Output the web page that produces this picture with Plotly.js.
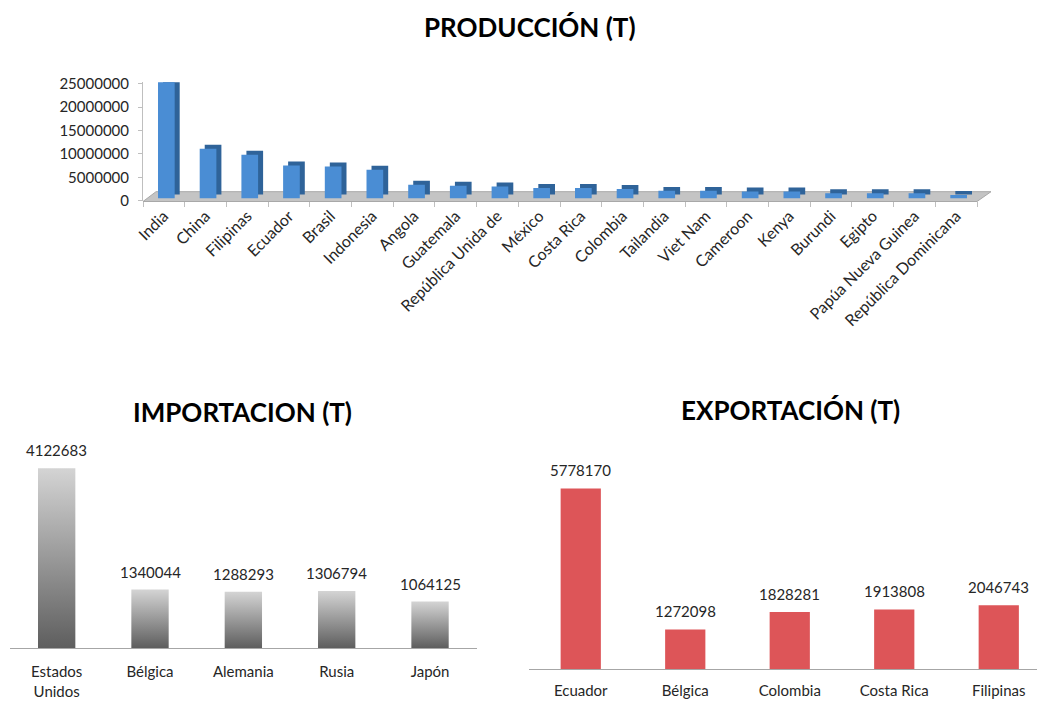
<!DOCTYPE html>
<html>
<head>
<meta charset="utf-8">
<script src="https://cdn.plot.ly/plotly-3.0.1.min.js"></script>
<style>
  html, body { margin: 0; padding: 0; background: #ffffff; }
  #chart { width: 1037px; height: 702px; }
</style>
</head>
<body>
<div id="chart"></div>
<script>
// ---------------- DATA ----------------
const prodCats = ['India','China','Filipinas','Ecuador','Brasil','Indonesia','Angola','Guatemala',
  'República Unida de','México','Costa Rica','Colombia','Tailandia','Viet Nam','Cameroon','Kenya',
  'Burundi','Egipto','Papúa Nueva Guinea','República Dominicana'];
const prodVals = [25100000,10600000,9300000,7000000,6800000,6100000,2900000,2700000,
  2550000,2200000,2200000,2000000,1600000,1600000,1450000,1450000,
  1100000,1100000,1100000,700000];
const prodTicks = [0,5000000,10000000,15000000,20000000,25000000];

const impCats = ['Estados<br>Unidos','Bélgica','Alemania','Rusia','Japón'];
const impVals = [4122683,1340044,1288293,1306794,1064125];

const expCats = ['Ecuador','Bélgica','Colombia','Costa Rica','Filipinas'];
const expVals = [5778170,1272098,1828281,1913808,2046743];

const titles = ['PRODUCCIÓN (T)','IMPORTACION (T)','EXPORTACIÓN (T)'];

// ---------------- STYLE / GEOMETRY ----------------
const W = 1037, H = 702;
const px = x => x / W;
const py = y => (H - y) / H;
const FONT = 'Lato, "Open Sans", "DejaVu Sans", sans-serif';
const TXT = '#262626';
const FLOOR = 500000;   // 3D floor lift of the bars
const LIFT = 850000;    // depth of the 3D top face

const data = [
  { // dark side / top face of 3D bars
    type:'bar', x:prodCats, y:prodVals, base:FLOOR+LIFT, xaxis:'x', yaxis:'y',
    width:0.40, offset:-0.02, marker:{color:'#2F6399', line:{width:0}},
    cliponaxis:false, hoverinfo:'skip'
  },
  { // front face
    type:'bar', x:prodCats, y:prodVals, base:FLOOR, xaxis:'x', yaxis:'y',
    width:0.40, offset:-0.14, marker:{color:'#4A8DD4', line:{width:0}},
    cliponaxis:false
  },
  {
    type:'bar', x:impCats, y:impVals, xaxis:'x2', yaxis:'y2', width:0.40,
    marker:{color:'#9a9a9a', line:{width:0}}
  },
  {
    type:'bar', x:expCats, y:expVals, xaxis:'x3', yaxis:'y3', width:0.385,
    marker:{color:'#DD5558', line:{width:0}}
  }
];

const annotations = [];
const titlePos = [[530,27],[242.5,411.5],[790,410]];
titles.forEach((t,i)=>{
  annotations.push({xref:'paper', yref:'paper', x:px(titlePos[i][0]), y:py(titlePos[i][1]),
    xanchor:'center', yanchor:'middle', showarrow:false, text:t,
    font:{family:FONT, size:26, color:'#000', weight:700}});
});
impCats.forEach((c,i)=>{
  annotations.push({xref:'x2', yref:'y2', x:c, y:impVals[i], text:String(impVals[i]),
    showarrow:false, yanchor:'bottom', yshift:7, font:{family:FONT, size:15, color:TXT}});
});
expCats.forEach((c,i)=>{
  annotations.push({xref:'x3', yref:'y3', x:c, y:expVals[i], text:String(expVals[i]),
    showarrow:false, yanchor:'bottom', yshift:7, font:{family:FONT, size:15, color:TXT}});
});

const floorPath = 'M ' + px(143) + ',' + py(201.5) + ' L ' + px(977) + ',' + py(201.5) +
  ' L ' + px(991) + ',' + py(191.7) + ' L ' + px(156) + ',' + py(191.7) + ' Z';

const layout = {
  width: W, height: H,
  margin: {l:0, r:0, t:0, b:0, pad:0},
  paper_bgcolor:'#ffffff', plot_bgcolor:'rgba(0,0,0,0)',
  font:{family:FONT, size:15, color:TXT},
  showlegend:false, barmode:'overlay',
  xaxis:{domain:[px(143), px(977)], anchor:'y', type:'category', range:[-0.5,19.5],
    tickangle:-45, ticks:'outside', tickson:'boundaries', ticklen:5, tickcolor:'#BFBFBF',
    showline:false, showgrid:false, zeroline:false, tickfont:{size:16, color:TXT},
    ticklabelstandoff:2, fixedrange:true},
  yaxis:{domain:[py(200.7), py(82.3)], anchor:'x', range:[0,25300000],
    tickvals:prodTicks, tickformat:'d', ticks:'outside', ticklen:4, tickcolor:'#BFBFBF',
    showline:true, linecolor:'#BFBFBF', linewidth:1, showgrid:false, zeroline:false,
    tickfont:{size:15, color:TXT}, ticklabelstandoff:6, fixedrange:true},
  xaxis2:{domain:[px(10), px(476.7)], anchor:'y2', type:'category', range:[-0.5,4.5],
    showline:true, linecolor:'#A6A6A6', linewidth:1, ticks:'', showgrid:false, zeroline:false,
    tickfont:{size:15, color:TXT}, ticklabelstandoff:10, fixedrange:true},
  yaxis2:{domain:[py(648), py(447.4)], anchor:'x2', range:[0,4600000], visible:false, fixedrange:true},
  xaxis3:{domain:[px(528.5), 1], anchor:'y3', type:'category', range:[-0.5,4.366],
    showline:true, linecolor:'#A6A6A6', linewidth:1, ticks:'', showgrid:false, zeroline:false,
    tickfont:{size:15, color:TXT}, ticklabelstandoff:8, fixedrange:true},
  yaxis3:{domain:[py(669.3), py(475.2)], anchor:'x3', range:[0,6200000], visible:false, fixedrange:true},
  shapes:[
    {type:'path', xref:'paper', yref:'paper', path:floorPath, layer:'below',
     fillcolor:'#C4C4C4', line:{color:'#A8A8A8', width:1}}
  ],
  annotations: annotations
};

Plotly.newPlot('chart', data, layout, {displayModeBar:false, staticPlot:true}).then(gd => {
  const ns = 'http://www.w3.org/2000/svg';
  const svg = gd.querySelector('.main-svg');
  let defs = svg.querySelector('defs');
  if (!defs) { defs = document.createElementNS(ns,'defs'); svg.insertBefore(defs, svg.firstChild); }
  const lg = document.createElementNS(ns,'linearGradient');
  lg.setAttribute('id','impGrad');
  lg.setAttribute('x1','0'); lg.setAttribute('y1','0'); lg.setAttribute('x2','0'); lg.setAttribute('y2','1');
  [['0','#D4D4D4'],['1','#5E5E5E']].forEach(([o,c])=>{
    const s = document.createElementNS(ns,'stop');
    s.setAttribute('offset',o); s.setAttribute('stop-color',c);
    lg.appendChild(s);
  });
  defs.appendChild(lg);
  gd.querySelectorAll('.x2y2 .barlayer path').forEach(p => { p.style.fill = 'url(#impGrad)'; });
});
</script>
</body>
</html>
